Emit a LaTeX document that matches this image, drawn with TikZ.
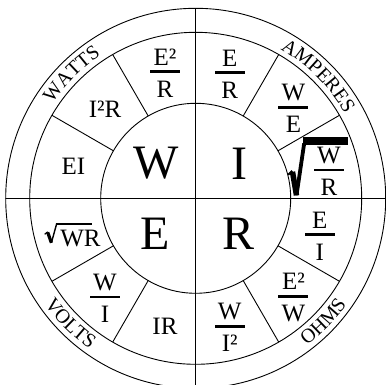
\documentclass[tikz,border=0pt]{standalone}
\usepackage{fontspec}
\setmainfont{Liberation Serif}
\usetikzlibrary{decorations.text}
\newcommand\frc[5]{%
  \node[mid] (#1n) at (#2,#3+6.5) {#4};
  \fill (#2-15,#3-1.4) rectangle (#2+15,#3+1.4);
  \node[mid] (#1d) at (#2,#3-25.5) {#5};}
\begin{document}
\begin{tikzpicture}[x=1pt,y=1pt,
  ring/.style={line width=0.9pt},
  big/.style={font=\fontsize{48}{48}\selectfont, inner sep=0pt, anchor=base},
  mid/.style={font=\fontsize{25}{25}\selectfont, inner sep=0pt, anchor=base},
  toptext/.style={decorate, decoration={text along path, text align=center,
     text={|\fontsize{20}{20}\selectfont|#1}}},
]
\useasboundingbox (-195.7,-186.7) rectangle (190.3,198.3);
\coordinate (O) at (0,0);
% circles
\draw[ring] (O) circle (190pt);
\draw[ring] (O) circle (166pt);
\draw[ring] (O) circle (95pt);
% axes
\draw[ring] (-190,0) -- (190,0);
\draw[ring] (0,-190) -- (0,190);
% dividers
\foreach \a in {30,60,120,150,210,240,300,330}
  \draw[ring] (\a:95pt) -- (\a:166pt);
% outer labels
\path[toptext=WATTS] (165:171.5pt) arc (165:105:171.5pt);
\path[toptext=AMPERES] (85:171.5pt) arc (85:5:171.5pt);
\path[toptext=VOLTS] (195:184.5pt) arc (195:255:184.5pt);
\path[toptext=OHMS] (285:184.5pt) arc (285:347:184.5pt);
% big letters
\node[big] (W) at (-39.7,19.3) {W};
\node[big] (I) at (43.8,18.3) {I};
\node[big] (E) at (-40.2,-51.7) {E};
\node[big] (R) at (43.3,-51.7) {R};
% plain ring labels
\node[mid] (EI) at (-122.4,23.3) {EI};
\node[mid] (I2R) at (-90.7,80.3) {I²R};
\node[mid] (IR) at (-30.7,-136.4) {IR};
\node[mid] (WR) at (-115.2,-48.4) {WR};
% fractions
\frc{er}{-30.7}{126.6}{E²}{R}
\frc{eR}{34}{125.6}{E}{R}
\frc{we}{97.8}{91}{W}{E}
\frc{ei}{124}{-36.4}{E}{I}
\frc{ew}{97.8}{-98}{E²}{W}
\frc{wii}{34}{-128}{W}{I²}
\frc{wi}{-90.7}{-98.7}{W}{I}
\frc{wr}{133.3}{28.3}{W}{R}
% small radical
\draw[line width=1.2pt] (-151,-36) -- (-148,-33.5);
\draw[line width=3.2pt] (-148,-34) -- (-144.3,-44.5);
\draw[line width=1.4pt] (-144.3,-44.5) -- (-139,-25.3);
\draw[line width=2pt] (-139.5,-25.3) -- (-104,-25.3);
% big radical
\draw[line width=1.8pt] (92.5,23.5) -- (96.5,27.5);
\draw[line width=5.5pt] (96.8,26.5) -- (100.8,3);
\draw[line width=3.8pt] (100.8,3) -- (108.5,55);
\fill (107,53.3) rectangle (152.6,61.3);
\end{tikzpicture}
\end{document}
